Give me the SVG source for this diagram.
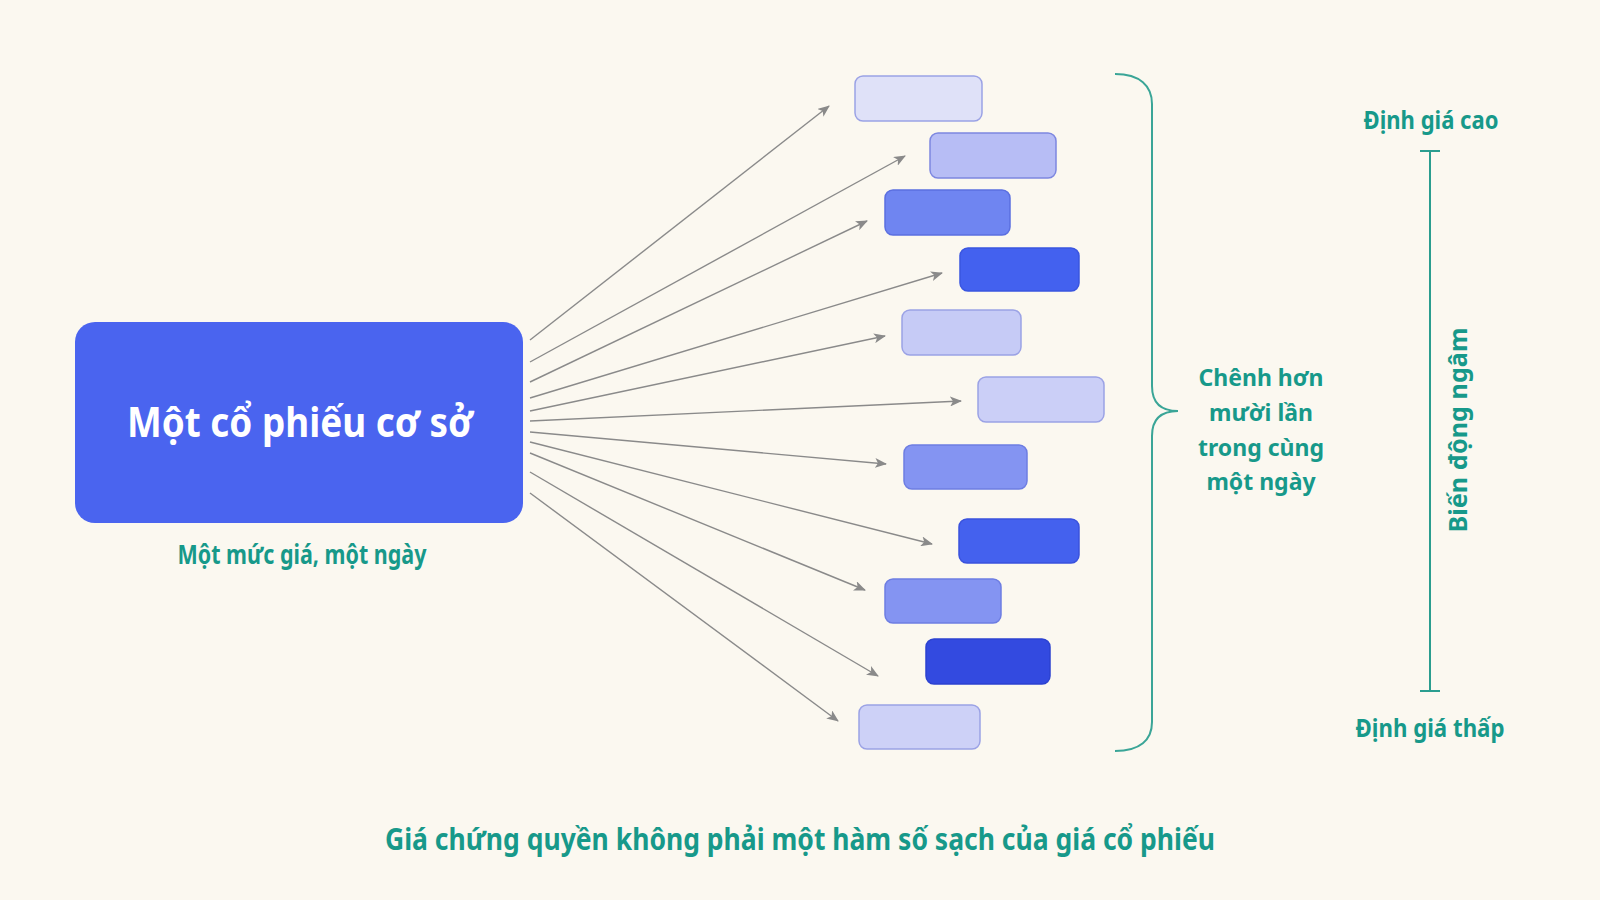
<svg xmlns="http://www.w3.org/2000/svg" width="1600" height="900" viewBox="0 0 1600 900">
<defs>
<style>
.t{font-family:"Noto Sans","Liberation Sans",sans-serif;font-weight:700;fill:#17998a;text-anchor:middle}
.conn line{stroke:#8a8a8a;stroke-width:1.4;fill:none}
.b{stroke-width:1.5}
</style>
<marker id="ah" viewBox="0 0 12 10" refX="11" refY="5" markerWidth="12" markerHeight="10" markerUnits="userSpaceOnUse" orient="auto">
<path d="M0,0 L12,5 L0,10 L3,5 Z" fill="#8a8a8a"/>
</marker>
</defs>
<rect width="1600" height="900" fill="#fbf8f0"/>

<g id="source">
<rect x="75" y="322" width="448" height="201" rx="20" fill="#4a64ef"/>
<text class="t" x="300" y="437" font-size="42" style="fill:#ffffff" textLength="346" lengthAdjust="spacingAndGlyphs">Một cổ phiếu cơ sở</text>
<text class="t" x="302" y="564" font-size="26" textLength="249" lengthAdjust="spacingAndGlyphs">Một mức giá, một ngày</text>
</g>

<g id="connectors" class="conn">
<line x1="530" y1="340" x2="829" y2="106" marker-end="url(#ah)"/>
<line x1="530" y1="362" x2="905" y2="156" marker-end="url(#ah)"/>
<line x1="530" y1="382" x2="867" y2="221" marker-end="url(#ah)"/>
<line x1="530" y1="398" x2="942" y2="273" marker-end="url(#ah)"/>
<line x1="530" y1="411" x2="885" y2="336" marker-end="url(#ah)"/>
<line x1="530" y1="421" x2="961" y2="401" marker-end="url(#ah)"/>
<line x1="530" y1="432" x2="886" y2="464" marker-end="url(#ah)"/>
<line x1="530" y1="442" x2="932" y2="544" marker-end="url(#ah)"/>
<line x1="530" y1="453" x2="865" y2="590" marker-end="url(#ah)"/>
<line x1="530" y1="472" x2="878" y2="676" marker-end="url(#ah)"/>
<line x1="530" y1="493" x2="838" y2="721" marker-end="url(#ah)"/>
</g>

<g id="price1"><rect class="b" x="855" y="76" width="127" height="45" rx="8" fill="#dfe1f8" stroke="#9ba2e5"/></g>
<g id="price2"><rect class="b" x="930" y="133" width="126" height="45" rx="8" fill="#b7bdf5" stroke="#7d87e0"/></g>
<g id="price3"><rect class="b" x="885" y="190" width="125" height="45" rx="8" fill="#6f85f1" stroke="#5b6fe0"/></g>
<g id="price4"><rect class="b" x="960" y="248" width="119" height="43" rx="8" fill="#4361ef" stroke="#3a55e0"/></g>
<g id="price5"><rect class="b" x="902" y="310" width="119" height="45" rx="8" fill="#c6cbf6" stroke="#9ba2e5"/></g>
<g id="price6"><rect class="b" x="978" y="377" width="126" height="45" rx="8" fill="#cbcff7" stroke="#9ba2e5"/></g>
<g id="price7"><rect class="b" x="904" y="445" width="123" height="44" rx="8" fill="#8494f2" stroke="#6d7de2"/></g>
<g id="price8"><rect class="b" x="959" y="519" width="120" height="44" rx="8" fill="#4461ee" stroke="#3a52dd"/></g>
<g id="price9"><rect class="b" x="885" y="579" width="116" height="44" rx="8" fill="#8494f2" stroke="#6d7de2"/></g>
<g id="price10"><rect class="b" x="926" y="639" width="124" height="45" rx="8" fill="#334ae0" stroke="#2c42d0"/></g>
<g id="price11"><rect class="b" x="859" y="705" width="121" height="44" rx="8" fill="#cdd1f7" stroke="#9ba2e5"/></g>

<g id="brace">
<path d="M1115,74 C1140,74 1152,86 1152,104 L1152,386 C1152,402 1160,411 1178,411 C1160,411 1152,420 1152,436 L1152,722 C1152,740 1140,751 1115,751" fill="none" stroke="#3aa597" stroke-width="2"/>
<text class="t" font-size="23"><tspan x="1261" y="386">Chênh hơn</tspan><tspan x="1261" y="421">mười lần</tspan><tspan x="1261" y="456">trong cùng</tspan><tspan x="1261" y="490">một ngày</tspan></text>
</g>

<g id="scale">
<text class="t" x="1431" y="129" font-size="25" textLength="135" lengthAdjust="spacingAndGlyphs">Định giá cao</text>
<line x1="1430" y1="151" x2="1430" y2="691" stroke="#2a9d8f" stroke-width="2"/>
<line x1="1420" y1="151" x2="1440" y2="151" stroke="#2a9d8f" stroke-width="2"/>
<line x1="1420" y1="691" x2="1440" y2="691" stroke="#2a9d8f" stroke-width="2"/>
<text class="t" x="1430" y="737" font-size="25" textLength="149" lengthAdjust="spacingAndGlyphs">Định giá thấp</text>
<text class="t" font-size="25" transform="translate(1467,430) rotate(-90)" textLength="205" lengthAdjust="spacingAndGlyphs">Biến động ngâm</text>
</g>

<g id="caption">
<text class="t" x="800" y="850" font-size="31" textLength="830" lengthAdjust="spacingAndGlyphs">Giá chứng quyền không phải một hàm số sạch của giá cổ phiếu</text>
</g>
</svg>
